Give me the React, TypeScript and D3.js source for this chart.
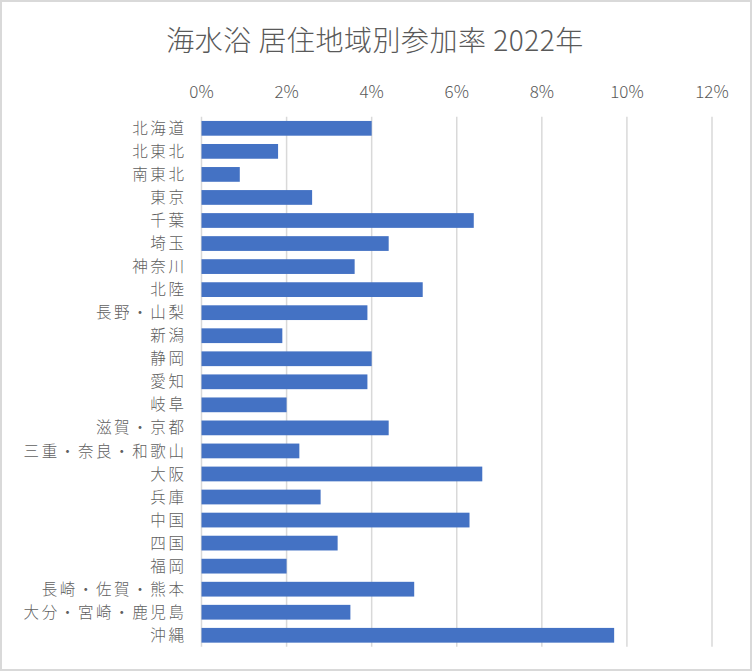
import React from "react";
import * as d3 from "d3";

const categories = [
  "北海道", "北東北", "南東北", "東京", "千葉", "埼玉", "神奈川", "北陸",
  "長野・山梨", "新潟", "静岡", "愛知", "岐阜", "滋賀・京都", "三重・奈良・和歌山",
  "大阪", "兵庫", "中国", "四国", "福岡", "長崎・佐賀・熊本", "大分・宮崎・鹿児島", "沖縄",
];
const values = [
  4.0, 1.8, 0.9, 2.6, 6.4, 4.4, 3.6, 5.2,
  3.9, 1.9, 4.0, 3.9, 2.0, 4.4, 2.3,
  6.6, 2.8, 6.3, 3.2, 2.0, 5.0, 3.5, 9.7,
];
const tickValues = [0, 2, 4, 6, 8, 10, 12];
const title = "海水浴 居住地域別参加率 2022年";

const W = 752;
const H = 671;
const FONT = "'Noto Sans CJK JP', 'Noto Sans', sans-serif";

export default function App() {
  const x = d3.scaleLinear().domain([0, 12]).range([201.5, 712]);
  const y = d3
    .scaleBand<string>()
    .domain(categories)
    .range([116.8, 646.8])
    .paddingInner(0.36)
    .paddingOuter(0.18);

  return (
    <svg
      width={W}
      height={H}
      style={{ position: "absolute", left: 0, top: 0, background: "#fff" }}
      fontFamily={FONT}
    >
      <rect x={1} y={1} width={W - 2} height={H - 2} fill="#fff" stroke="#d9d9d9" strokeWidth={2} />
      <text x={375} y={51} textAnchor="middle" fontSize={28} fontWeight={300} letterSpacing={0.5} fill="#595959">
        {title}
      </text>
      {tickValues.map((t) => (
        <g key={t}>
          <line x1={x(t)} x2={x(t)} y1={116.8} y2={646.8} stroke="#d9d9d9" strokeWidth={1.5} />
          <text x={x(t)} y={98} textAnchor="middle" fontSize={17} fontWeight={300} fill="#595959">
            {t + "%"}
          </text>
        </g>
      ))}
      {categories.map((c, i) => (
        <g key={c}>
          <rect
            x={x(0)}
            y={y(c)!}
            width={x(values[i]) - x(0)}
            height={y.bandwidth()}
            fill="#4472C4"
          />
          <text
            x={186.5}
            y={y(c)! + y.bandwidth() / 2}
            dy="0.36em"
            textAnchor="end"
            fontSize={15.5}
            fontWeight={300}
            letterSpacing={2.6}
            fill="#5f5f5f"
          >
            {c}
          </text>
        </g>
      ))}
    </svg>
  );
}
